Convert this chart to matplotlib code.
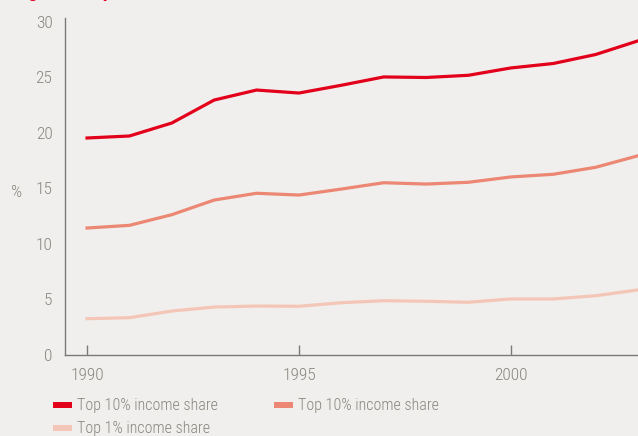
import matplotlib
matplotlib.use('Agg')
import matplotlib.pyplot as plt
from matplotlib.patches import Rectangle

# Data.
years = [1990, 1991, 1992, 1993, 1994, 1995, 1996, 1997, 1998, 1999, 2000, 2001, 2002, 2003]
top10_a = [19.55, 19.73, 20.9, 22.97, 23.87, 23.6, 24.3, 25.05, 25.0, 25.2, 25.86, 26.26, 27.07, 28.3]
top10_b = [11.44, 11.68, 12.64, 13.96, 14.57, 14.41, 14.95, 15.52, 15.4, 15.56, 16.04, 16.28, 16.91, 17.95]
top1 = [3.27, 3.36, 3.96, 4.32, 4.41, 4.39, 4.71, 4.89, 4.84, 4.75, 5.05, 5.05, 5.34, 5.86]
series_labels = ['Top 10% income share', 'Top 10% income share', 'Top 1% income share']
y_ticks = [0, 5, 10, 15, 20, 25, 30]
x_ticks = [1990, 1995, 2000]

bg = '#f0efed'
grey = '#87877e'
colors = ['#e3001b', '#ec8773', '#f4c6b8']

plt.rcParams['font.family'] = ['Roboto Condensed', 'Open Sans', 'DejaVu Sans']
plt.rcParams['font.weight'] = 'light'

W, H = 638, 436
fig = plt.figure(figsize=(W / 100, H / 100), dpi=100, facecolor=bg)
# axes box in pixel coords: left spine x=65, bottom y=355, top y=18, right edge of image
ax = fig.add_axes([65 / W, 1 - 355 / H, (W - 65) / W, (355 - 18) / H], facecolor=bg)

for vals, c in zip([top10_a, top10_b, top1], colors):
    ax.plot(years, vals, color=c, lw=2.3, solid_joinstyle='miter')

ax.set_xlim(1989.48, 2003.0)
ax.set_ylim(0, 30.36)
ax.set_yticks(y_ticks)
ax.set_xticks(x_ticks)

for s in ['top', 'right']:
    ax.spines[s].set_visible(False)
for s in ['left', 'bottom']:
    ax.spines[s].set_color('#7a7a7a')
    ax.spines[s].set_linewidth(1.0)

ax.tick_params(axis='y', length=0, pad=9, labelsize=12.5, labelcolor=grey)
ax.tick_params(axis='x', direction='in', length=7, width=1, color='#7a7a7a',
               pad=9, labelsize=12.5, labelcolor=grey)

fig.text(17 / W, 1 - 192 / H, '%', ha='center', va='center', fontsize=12.5, color=grey)

# title, cut off by the top edge as in the reference
fig.text(14 / W, 1 + 3 / H, 'Figure 1 Top income shares', ha='left', va='baseline',
         fontsize=14, color='#e3001b', fontweight='bold')

# legend, laid out as in the reference
leg_pos = [(53, 405), (53, 428), (274, 405)]
order = [0, 2, 1]
for (px, py), i in zip(leg_pos, order):
    fig.patches.append(Rectangle((px / W, 1 - (py + 3) / H), 19 / W, 6 / H,
                                 transform=fig.transFigure, color=colors[i], lw=0))
    fig.text((px + 24) / W, 1 - py / H, series_labels[i], ha='left', va='center',
             fontsize=11.5, color=grey)

fig.savefig('out.png', dpi=100, facecolor=bg)
